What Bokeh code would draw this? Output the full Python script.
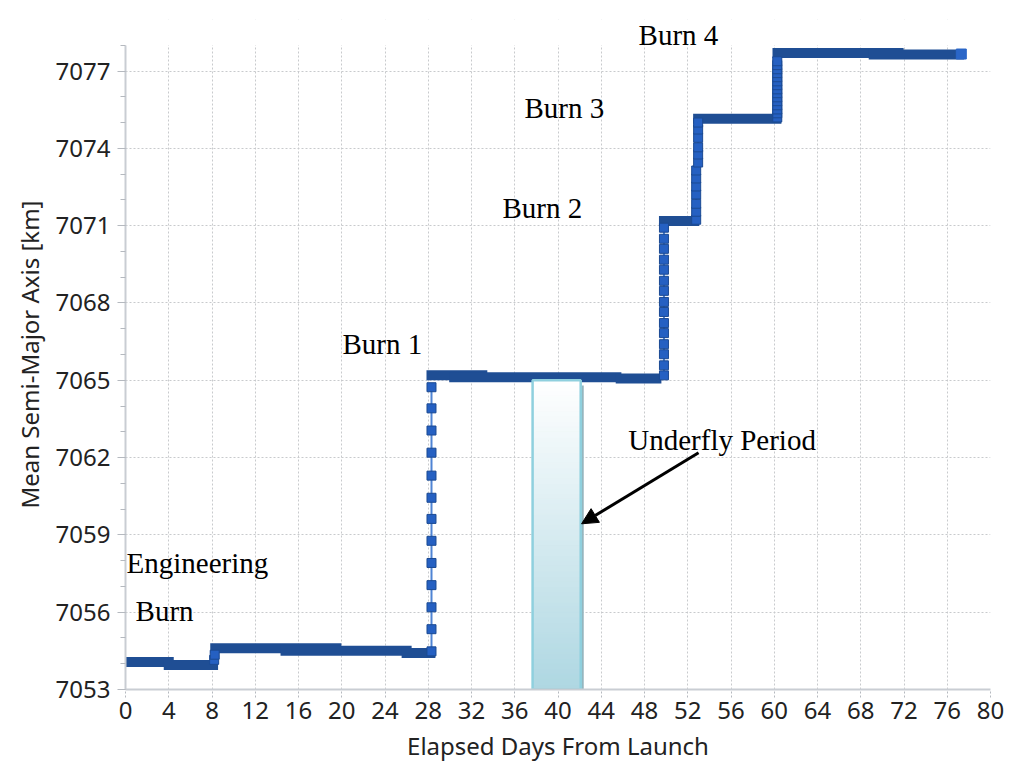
import numpy as np
from bokeh.plotting import figure
from bokeh.models import Range1d, FixedTicker, Label, Arrow, NormalHead
from bokeh.embed import file_html
from bokeh.resources import INLINE

# ---------------- data ----------------
x_ticks = [0, 4, 8, 12, 16, 20, 24, 28, 32, 36, 40, 44, 48, 52, 56, 60, 64, 68, 72, 76, 80]
y_ticks = [7053, 7056, 7059, 7062, 7065, 7068, 7071, 7074, 7077]
y_minor = list(range(7053, 7079))
y_axis_min, y_axis_max = 7053, 7078

# flat (densely sampled) stretches of the mean semi-major axis
seg_start = [0.0, 4.0, 8.3, 14.8, 26.0, 28.3, 30.4, 45.8, 49.8, 52.96, 60.3, 69.2]
seg_end = [4.0, 8.1, 19.5, 26.0, 28.2, 33.0, 45.4, 49.1, 52.6, 60.2, 71.5, 77.1]
seg_level = [7054.07, 7053.95, 7054.60, 7054.50, 7054.42, 7065.19, 7065.12, 7065.07,
             7071.18, 7075.15, 7077.70, 7077.64]

# samples during the engineering burn
eng_x = [8.2, 8.25]
eng_y = [7054.15, 7054.35]

# samples during burn 1
burn1_x = [28.3] * 13
burn1_y = [7054.48, 7055.34, 7056.19, 7057.05, 7057.91, 7058.77, 7059.62, 7060.44,
           7061.30, 7062.19, 7063.05, 7063.91, 7064.73]

# samples during burn 2
burn2_x = [49.8] * 15
burn2_y = [7065.19, 7065.58, 7066.01, 7066.40, 7066.83, 7067.22, 7067.65, 7068.04,
           7068.47, 7068.86, 7069.29, 7069.68, 7070.10, 7070.49, 7070.92]

# samples during burn 3
burn3_x = [52.78] * 7 + [52.96] * 6
burn3_y = [7071.23, 7071.54, 7071.85, 7072.21, 7072.52, 7072.83, 7073.14,
           7073.45, 7073.76, 7074.04, 7074.41, 7074.73, 7075.00]

# samples during burn 4
burn4_x = [60.28] * 15
burn4_y = [7075.20, 7075.36, 7075.51, 7075.67, 7075.83, 7075.98, 7076.14, 7076.29,
           7076.45, 7076.60, 7076.76, 7076.92, 7077.07, 7077.23, 7077.38]

end_x = [77.3]
end_y = [7077.66]

# underfly period
underfly_start = 37.65
underfly_end = 42.1
underfly_low = 7053.0
underfly_high = 7065.0

# annotation texts and anchor points (data coords, left / baseline)
ann_text = ["Burn 4", "Burn 3", "Burn 2", "Burn 1", "Engineering", "Burn", "Underfly Period"]
ann_x = [47.45, 36.9, 34.87, 20.07, 0.1, 0.93, 46.5]
ann_y = [7078.40, 7075.57, 7071.68, 7066.40, 7057.92, 7056.03, 7062.70]

arrow_from = (53.0, 7062.19)
arrow_to = (42.18, 7059.43)

# ---------------- figure ----------------
Y_TOP = 7079.0  # head-room so the top label is not clipped
p = figure(width=1018, height=770, output_backend="svg", toolbar_location=None,
           x_range=Range1d(0, 80), y_range=Range1d(y_axis_min, Y_TOP),
           min_border_left=125, min_border_right=28, min_border_top=19, min_border_bottom=81)
p.outline_line_color = None
p.background_fill_color = "white"
p.border_fill_color = "white"

DARK = "#1f4e94"
MARK = "#2560c2"
MARK_EDGE = "#1b4a93"

# cover the head-room above the axis top
p.quad(left=[0], right=[80], bottom=[y_axis_max], top=[Y_TOP], fill_color="white", line_color=None)

# flat stretches
p.segment(x0=seg_start, y0=seg_level, x1=seg_end, y1=seg_level,
          line_color=DARK, line_width=10, line_cap="square")

# burns: thin connecting line + square samples
for bx, by in [(eng_x, eng_y), (burn1_x, burn1_y), (burn2_x, burn2_y),
               (burn3_x, burn3_y), (burn4_x, burn4_y)]:
    p.line(bx, by, line_color="#4f84d4", line_width=2)
    p.scatter(bx, by, marker="square", size=9, fill_color=MARK, line_color=MARK_EDGE, line_width=1)

p.scatter(end_x, end_y, marker="square", size=10, fill_color="#2a66c8", line_color="#2a66c8")

# underfly box: shadow, gradient fill, border
sx = 0.28
p.quad(left=underfly_start + sx, right=underfly_end + sx, bottom=underfly_low,
       top=underfly_high - 0.2, fill_color="#95b6bf", line_color=None)
n = 60
edges = np.linspace(underfly_low, underfly_high, n + 1)
bottom_rgb = np.array([174, 215, 226])
top_rgb = np.array([255, 255, 255])
cols = []
for i in range(n):
    t = ((edges[i] + edges[i + 1]) / 2 - underfly_low) / (underfly_high - underfly_low)
    c = bottom_rgb * (1 - t) + top_rgb * t
    cols.append("#%02x%02x%02x" % tuple(int(round(v)) for v in c))
p.quad(left=[underfly_start] * n, right=[underfly_end] * n, bottom=edges[:-1], top=edges[1:],
       fill_color=cols, line_color=cols, line_width=1)
p.quad(left=[underfly_start], right=[underfly_end], bottom=[underfly_low], top=[underfly_high],
       fill_color=None, line_color="#8fd0de", line_width=2.5)

# arrow
p.add_layout(Arrow(x_start=arrow_from[0], y_start=arrow_from[1], x_end=arrow_to[0], y_end=arrow_to[1],
                   line_color="black", line_width=3,
                   end=NormalHead(size=16, fill_color="black", line_color="black", line_width=1)))

# labels
for t, x, y in zip(ann_text, ann_x, ann_y):
    p.add_layout(Label(x=x, y=y, text=t, text_font="Liberation Serif", text_font_size="29px",
                       text_color="black", text_align="left", text_baseline="alphabetic"))

# axes
AX_FONT = "Noto Sans"
p.xaxis.ticker = FixedTicker(ticks=x_ticks)
p.yaxis.ticker = FixedTicker(ticks=y_ticks, minor_ticks=y_minor)
p.yaxis.bounds = (y_axis_min, y_axis_max)
p.xaxis.axis_label = "Elapsed Days From Launch"
p.yaxis.axis_label = "Mean Semi-Major Axis [km]"
for ax in (p.xaxis[0], p.yaxis[0]):
    ax.axis_line_color = "#c9cdd3"
    ax.axis_line_width = 2
    ax.major_tick_line_color = "#b5b9bf"
    ax.major_tick_out = 8
    ax.major_tick_in = 0
    ax.major_label_text_font = AX_FONT
    ax.major_label_text_font_size = "24px"
    ax.major_label_text_color = "#222222"
    ax.axis_label_text_font = AX_FONT
    ax.axis_label_text_font_size = "24px"
    ax.axis_label_text_font_style = "normal"
    ax.axis_label_text_color = "#222222"
p.xaxis.major_tick_line_dash = "2 2"
p.xaxis.minor_tick_line_color = None
p.xaxis.major_label_standoff = 4
p.xaxis.axis_label_standoff = 7
p.yaxis.minor_tick_out = 5
p.yaxis.minor_tick_in = 0
p.yaxis.minor_tick_line_color = "#b5b9bf"
p.yaxis.major_label_standoff = 7
p.yaxis.axis_label_standoff = 7

p.xgrid.grid_line_color = "#c8cacd"
p.xgrid.grid_line_dash = "2 2"
p.ygrid.grid_line_color = "#c8cacd"
p.ygrid.grid_line_dash = "2 2"

open("out.html", "w").write(file_html(p, INLINE))
